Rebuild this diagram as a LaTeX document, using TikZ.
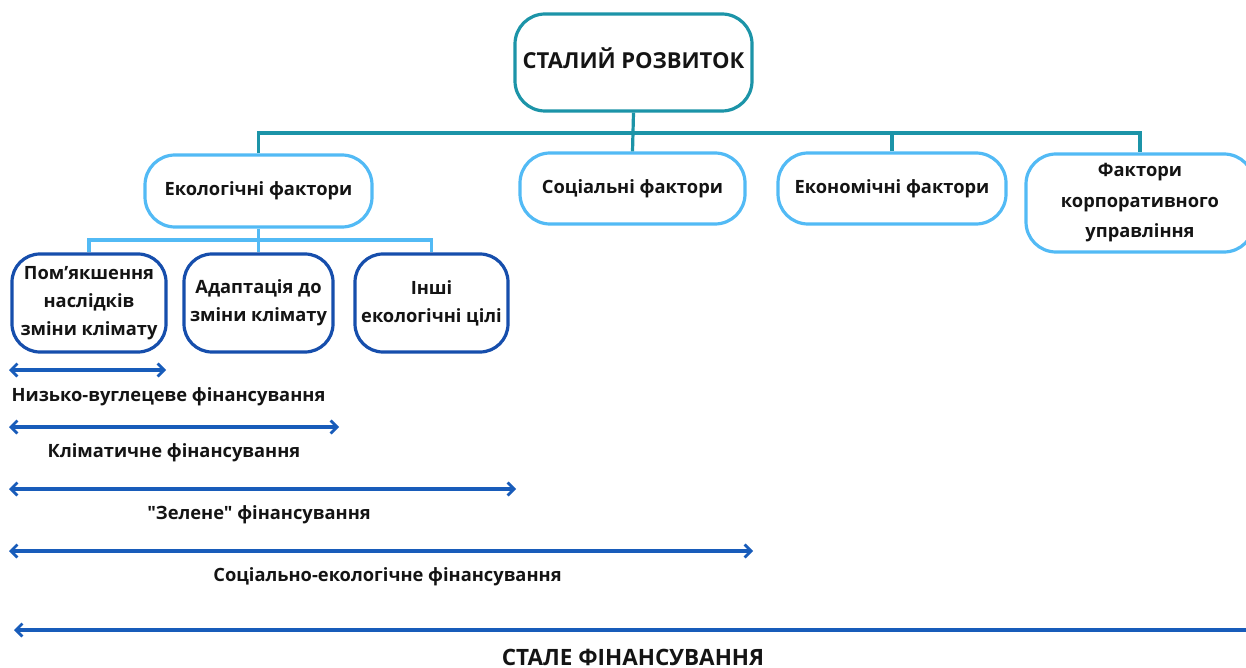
\documentclass[tikz,border=0pt]{standalone}
\usepackage{fontspec}
\setmainfont{Open Sans}[Ligatures=TeXOff]
\usetikzlibrary{arrows.meta}
\definecolor{tealline}{RGB}{28,148,168}
\definecolor{lightblue}{RGB}{82,186,245}
\definecolor{darkblue}{RGB}{22,78,172}
\definecolor{arrowblue}{RGB}{24,92,186}
\definecolor{txt}{RGB}{20,20,20}
\begin{document}
\begin{tikzpicture}[x=1pt,y=-1pt,
  every node/.style={font=\bfseries\fontsize{18.3}{28}\selectfont, text=txt, align=center, inner sep=0pt},
  topbox/.style={draw=tealline, line width=3.2pt, rounded corners=30pt, fill=white},
  factorbox/.style={draw=lightblue, line width=3.2pt, rounded corners=30pt, fill=white},
  subbox/.style={draw=darkblue, line width=3.2pt, rounded corners=28pt, fill=white},
  tree/.style={draw=tealline, line width=3.2pt},
  subtree/.style={draw=lightblue, line width=3.2pt},
  span/.style={draw=arrowblue, line width=3.2pt},
  tipx/.tip={Straight Barb[length=6.5pt,width=13pt,line width=2.8pt]},
  lbl/.style={anchor=center}
]
\useasboundingbox (0,0) rectangle (1246,668);

% top level
\node[topbox, minimum width=237pt, minimum height=97pt] (top) at (633.5,62.5) {};
\node (toptext) at (633.5,58) {\bfseries\fontsize{22}{26}\selectfont СТАЛИЙ РОЗВИТОК};

% factor groups
\node[factorbox, minimum width=227pt, minimum height=72pt] (eco) at (258.5,191) {Екологічні фактори};
\node[factorbox, minimum width=225pt, minimum height=71pt] (soc) at (632.5,188.5) {Соціальні фактори};
\node[factorbox, minimum width=228pt, minimum height=71pt] (econ) at (892,188.5) {Економічні фактори};
\node[factorbox, minimum width=228pt, minimum height=98pt, font=\bfseries\fontsize{18.3}{30.5}\selectfont] (gov) at (1140,203) {Фактори\\корпоративного\\управління};

% environmental sub-goals
\node[subbox, minimum width=154pt, minimum height=98pt] (mit) at (89,303) {Пом’якшення\\наслідків\\зміни клімату};
\node[subbox, minimum width=149pt, minimum height=98pt] (ada) at (258.5,303) {Адаптація до\\зміни клімату};
\node[subbox, minimum width=153pt, minimum height=98pt] (oth) at (431.5,303) {Інші\\екологічні цілі};

% tree connectors
\coordinate (bus) at (633.5,133);
\draw[tree] (eco.north) |- (bus) -| (gov.north);
\draw[tree] (top.south) -- (soc.north);
\draw[tree] (econ.north) -- (econ.north |- bus);

\coordinate (subbus) at (258.5,240);
\draw[subtree] (mit.north) |- (subbus) -| (oth.north);
\draw[subtree] (eco.south) -- (ada.north);

% financing spans
\coordinate (s1l) at (9,370);   \coordinate (s1r) at (166,370);
\coordinate (s2l) at (9,427);   \coordinate (s2r) at (339,427);
\coordinate (s3l) at (9,489);   \coordinate (s3r) at (516,489);
\coordinate (s4l) at (9,551);   \coordinate (s4r) at (753,551);
\coordinate (s5l) at (14,630);  \coordinate (s5r) at (1246,630);

\draw[span, tipx-tipx] (s1l) -- (s1r);
\draw[span, tipx-tipx] (s2l) -- (s2r);
\draw[span, tipx-tipx] (s3l) -- (s3r);
\draw[span, tipx-tipx] (s4l) -- (s4r);
\draw[span, tipx-] (s5l) -- (s5r);

\node[lbl] (f1) at (168.5,397) {Низько-вуглецеве фінансування};
\node[lbl] (f2) at (174,453) {Кліматичне фінансування};
\node[lbl] (f3) at (259,515) {"Зелене" фінансування};
\node[lbl] (f4) at (387.5,577) {Соціально-екологічне фінансування};
\node[lbl, font=\bfseries\fontsize{22.5}{26}\selectfont] (f5) at (633,657) {СТАЛЕ ФІНАНСУВАННЯ};
\end{tikzpicture}
\end{document}
